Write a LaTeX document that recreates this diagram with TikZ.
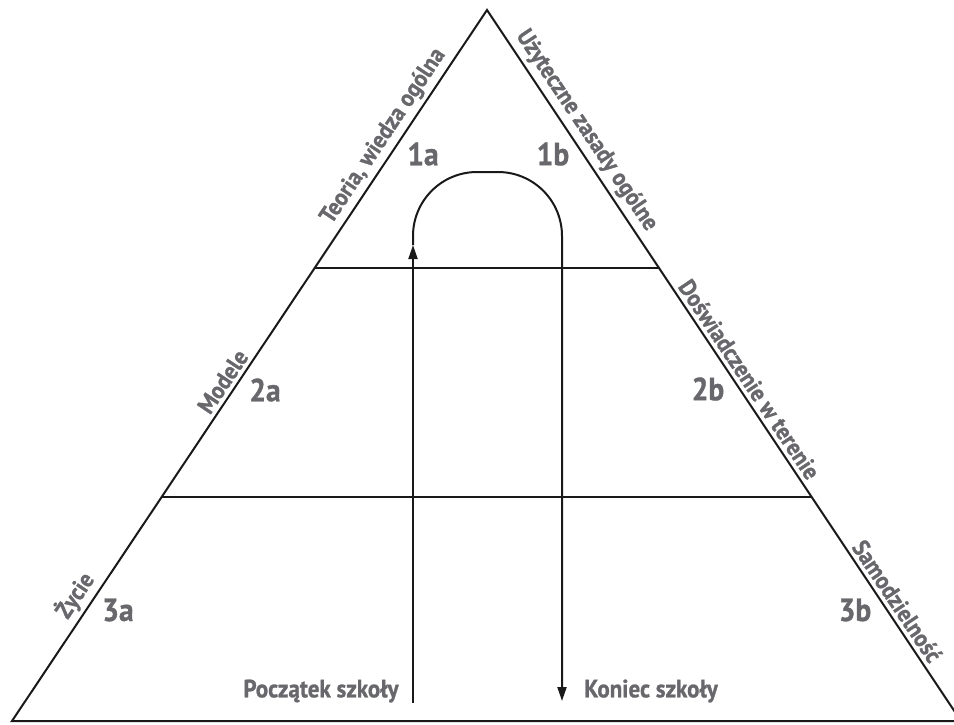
\documentclass[tikz,border=0pt]{standalone}
\usepackage{fontspec}
\setmainfont{PT Sans}[FakeStretch=0.92, BoldFeatures={FakeBold=1.0}]
\usetikzlibrary{arrows.meta,calc}
\definecolor{lbl}{RGB}{104,104,108}
\begin{document}
\begin{tikzpicture}[x=1pt,y=-1pt,
  edge/.style={line width=2pt, black!90},
  arr/.style={line width=2pt, black!90, -{Triangle[length=14pt,width=9pt]}},
  side/.style={font=\bfseries\fontsize{24}{26}\selectfont, text=lbl, inner sep=4.5pt, anchor=south},
  num/.style={font=\bfseries\fontsize{32}{34}\selectfont, text=lbl, inner sep=0pt},
  foot/.style={font=\bfseries\fontsize{25}{27}\selectfont, text=lbl, inner sep=0pt}]
\useasboundingbox (0,0) rectangle (954,724);
\clip (0,0) rectangle (954,724);
% triangle
\coordinate (A) at (487,10);
\coordinate (L) at (12,721);
\coordinate (R) at (961,721);
\coordinate (L1) at (315,268);
\coordinate (R1) at (660,268);
\coordinate (L2) at (162,497);
\coordinate (R2) at (812,497);
\draw[edge, line join=miter] (L) -- (A) -- (R) -- cycle;
\draw[edge] (L1) -- (R1);
\draw[edge] (L2) -- (R2);
% path of school
\coordinate (S) at (413,703);
\coordinate (M) at (413,245);
\coordinate (T1) at (413,172);
\coordinate (T2) at (562,172);
\coordinate (E) at (562,701);
\draw[arr] (S) -- (M);
\draw[arr, rounded corners=64pt] (M) -- (T1) -- (T2) -- (E);
% side labels
\node[side, rotate=56.25] (teoria) at ($(L)!0.81!(A)$) {Teoria, wiedza ogólna};
\node[side, rotate=56.25] (modele) at ($(L)!0.467!(A)$) {Modele};
\node[side, rotate=56.25] (zycie) at ($(L)!0.163!(A)$) {Życie};
\node[side, rotate=-56.25] (uzyt) at ($(A)!0.182!(R)$) {Użyteczne zasady ogólne};
\node[side, rotate=-56.25] (dosw) at ($(A)!0.530!(R)$) {Doświadczenie w terenie};
\node[side, rotate=-56.25] (samo) at ($(A)!0.842!(R)$) {Samodzielność};
% numbers
\node[num] (n1a) at (423,154) {1a};
\node[num] (n1b) at (553,154) {1b};
\node[num] (n2a) at (265,390) {2a};
\node[num] (n2b) at (708,389) {2b};
\node[num] (n3a) at (118,610) {3a};
\node[num] (n3b) at (855,610) {3b};
% footer labels
\node[foot] (pocz) at (321,691) {Początek szkoły};
\node[foot] (kon) at (651,691) {Koniec szkoły};
\end{tikzpicture}
\end{document}
